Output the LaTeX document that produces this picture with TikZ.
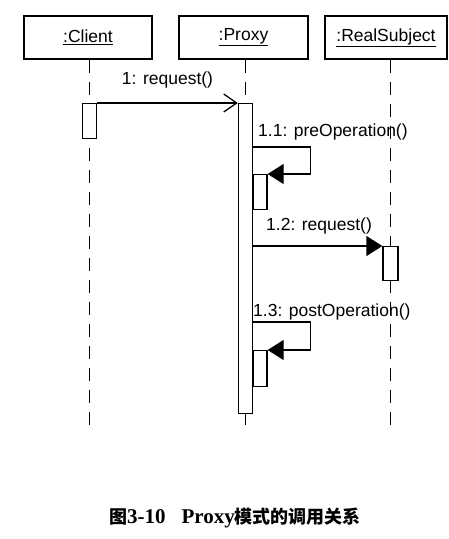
\documentclass[tikz,border=0pt]{standalone}
\usepackage{fontspec}
\setmainfont{Liberation Serif}
\setsansfont{Liberation Sans}
\newfontfamily\cjk{Noto Sans CJK SC}
\usetikzlibrary{positioning, arrows.meta}

\begin{document}
\begin{tikzpicture}[x=1pt, y=-1pt, font=\sffamily\fontsize{17.5}{20}\selectfont,
  obj/.style={draw, line width=2pt, minimum height=43pt, inner sep=0pt},
  act/.style={draw, line width=1.3pt, fill=white, minimum width=14pt, inner sep=0pt, anchor=north},
  life/.style={line width=1.4pt, dash pattern=on 13pt off 9pt},
  msg/.style={line width=1.3pt},
  sync/.style={msg, -{Triangle[length=16pt, width=20pt]}},
  async/.style={msg, -{Straight Barb[length=13pt, width=18pt, line width=1.3pt]}},
  lbl/.style={anchor=west, inner sep=0pt}]
\useasboundingbox (0,0) rectangle (449,539);
% objects
\node[obj, minimum width=128pt] (client) at (88,37) {\underline{:Client}};
\node[obj, minimum width=129pt] (proxy) at (243.5,37) {\underline{:Proxy}};
\node[obj, minimum width=122pt] (real) at (386,37.5) {\underline{:RealSubject}};
% lifelines
\coordinate (cend) at (89.5,430);
\coordinate (pend) at (245.5,425);
\coordinate (rend) at (390.5,430);
\draw[life] (client.south -| cend) -- (cend);
\draw[life] (proxy.south -| pend) -- (pend);
\draw[life] (real.south -| rend) -- (rend);
% activations
\node[act, minimum height=35pt] (ca) at (89.5,103) {};
\node[act, minimum height=310pt] (pa) at (245.5,103) {};
\node[act, minimum height=35pt] (na1) at (260,174) {};
\node[act, minimum height=34pt, minimum width=15pt] (ra) at (390.5,246) {};
\node[act, minimum height=36pt] (na2) at (260,350) {};
% messages
\draw[async] (ca.north east) -- (pa.north west) node[midway, above=14pt, inner sep=0pt] (m1) {1: request()};
\node[lbl] (m11) at (258,132) {1.1: preOperation()};
\draw[sync] ([yshift=-44pt]pa.north east) -- ++(57,0) |- (na1.north east);
\node[lbl] (m12) at (266,226) {1.2: request()};
\draw[sync] (pa.east |- ra.north west) -- (ra.north west);
\node[lbl] (m13) at (253,312) {1.3: postOperation()};
\draw[sync] ([yshift=-219pt]pa.north east) -- ++(57,0) |- (na2.north east);
% caption
\node[font=\rmfamily\bfseries\fontsize{21}{24}\selectfont] (cap) at (235,518)
  {{\cjk\fontsize{18}{20}\selectfont 图}3-10\hspace{16pt}Proxy{\cjk\fontsize{18}{20}\selectfont 模式的调用关系}};
\end{tikzpicture}
\end{document}
